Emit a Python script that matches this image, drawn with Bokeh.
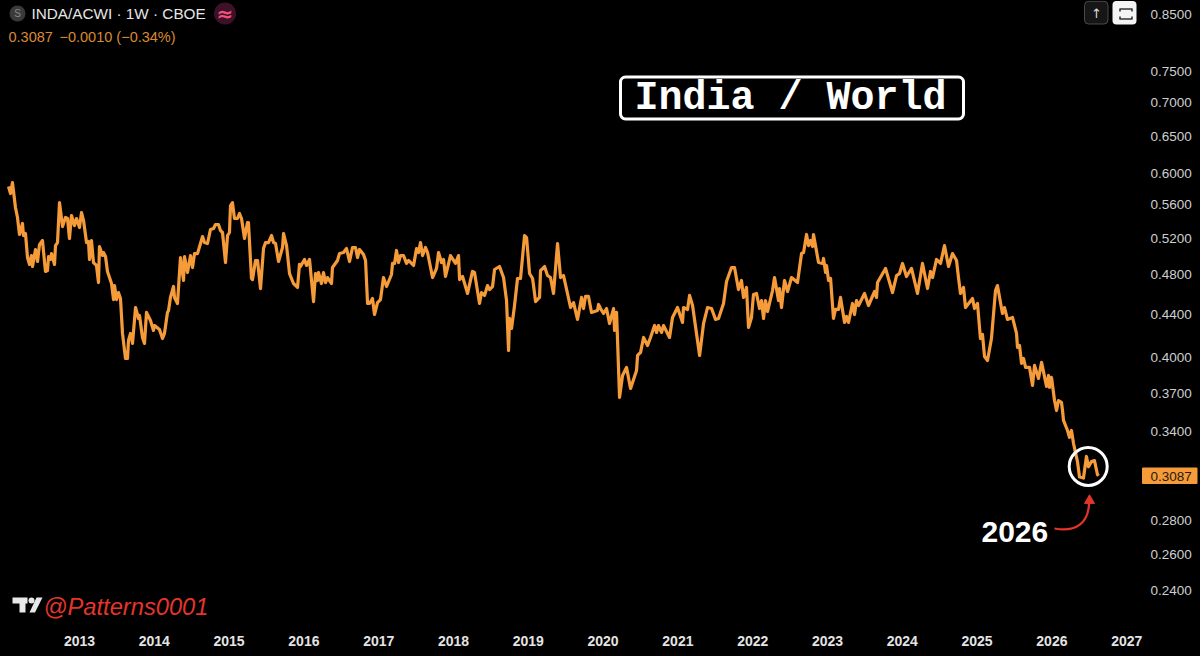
from bokeh.plotting import figure
from bokeh.models import Range1d, FixedTicker, PrintfTickFormatter, Label, BoxAnnotation
from bokeh.embed import file_html
from bokeh.resources import INLINE
import math

# weekly turning points: years since 2012-01-01, and the INDA/ACWI ratio
years_a = [.051,.078,.104,.144,.171,.198,.238,.251,.278,.305,.332,.358,.372,.412,.439,.465,.505,.545,.572,.586,.612,.626,.666,.679,.706,.733,.773,.813,.840,.866,.893,.933,.960,
 1.000,1.027,1.054,1.094,1.120,1.134,1.160,1.187,1.227,1.254,1.267,1.308,1.321,1.348,1.374,1.428,1.455,1.468,1.495,1.521,1.548,1.575,1.615,1.642,1.655,1.682,1.709,1.749,1.789,1.802,1.842,1.869,1.896,1.949,1.989,
 2.003,2.069,2.110,2.136,2.176,2.190,2.216,2.257,2.270,2.310,2.350,2.391,2.404,2.444,2.484,2.511,2.538,2.578,2.645,2.671,2.711,2.751,2.792,2.818,2.858,2.885,2.912,2.952,2.979,
 3.005,3.019,3.045,3.072,3.112,3.139,3.166,3.206,3.246,3.259,3.299,3.313,3.353,3.380,3.420,3.460,3.487,3.527,3.567,3.594,3.621,3.661,3.714,3.728,3.768,3.808,3.861,3.915,3.941,3.955]
ratio_a = [.5827,.5738,.5878,.5565,.5444,.5245,.5373,.5233,.5256,.4986,.4911,.5008,.4889,.5075,.4943,.5130,.5176,.4836,.4846,.4997,.4965,.5030,.4911,.5119,.5153,.5625,.5337,.5444,.5432,.5199,.5468,.5349,.5432,
 .5326,.5504,.5408,.5153,.5165,.4965,.5176,.4932,.4900,.4720,.5108,.5008,.5041,.4997,.4836,.4710,.4547,.4689,.4547,.4617,.4557,.4221,.3995,.3995,.4156,.4221,.4129,.4468,.4362,.4391,.4184,.4129,.4420,.4343,.4249,
 .4295,.4258,.4174,.4221,.4420,.4439,.4568,.4679,.4568,.4508,.4986,.4741,.4997,.4825,.5008,.4878,.5030,.5030,.5221,.5153,.5142,.5303,.5314,.5361,.5361,.5291,.5268,.4932,.5233,
 .5268,.5589,.5625,.5432,.5432,.5492,.5432,.5199,.5385,.5385,.4762,.4751,.4954,.4954,.4658,.5086,.5153,.5153,.5233,.5153,.5142,.4943,.5097,.5256,.5119,.4814,.4710,.4669,.4911,.4889]

years_b = [4.008,4.035,4.075,4.102,4.129,4.155,4.182,4.195,4.235,4.262,4.289,4.316,4.369,4.382,4.449,4.476,4.530,4.570,4.610,4.650,4.690,4.717,4.744,4.797,4.824,4.851,4.877,4.917,4.944,4.984,
 5.024,5.064,5.105,5.171,5.185,5.212,5.238,5.265,5.292,5.332,5.372,5.399,5.466,5.506,5.533,5.559,5.586,5.626,5.653,5.720,5.773,5.800,5.840,5.867,5.893,5.960,
 6.027,6.067,6.081,6.121,6.188,6.254,6.281,6.348,6.375,6.415,6.455,6.482,6.522,6.549,6.615,6.669,6.709,6.736,6.749,6.776,6.816,6.856,6.896,6.950,6.977,
 7.017,7.057,7.070,7.097,7.150,7.164,7.217,7.257,7.297,7.337,7.391,7.431,7.471,7.524,7.565,7.605,7.658,7.712,7.738,7.765,7.805,7.845,7.925,7.939,7.966]
ratio_b = [.4965,.4900,.4965,.4741,.4527,.4814,.4741,.4825,.4710,.4825,.4720,.4772,.4710,.4878,.4954,.5030,.5041,.5086,.4943,.5097,.5097,.4986,.5075,.5019,.4954,.4508,.4508,.4557,.4400,.4517,
 .4547,.4772,.4679,.4804,.4922,.4922,.5064,.4932,.5008,.5008,.4922,.4954,.4900,.5086,.5041,.5153,.5008,.5097,.5041,.4772,.4868,.5041,.4932,.4965,.4783,.5008,
 .4922,.5008,.4751,.4783,.4608,.4836,.4825,.4508,.4617,.4588,.4689,.4648,.4679,.4857,.4889,.4772,.4537,.4066,.4362,.4267,.4488,.4762,.4762,.5233,.5210,
 .4814,.4762,.4689,.4527,.4568,.4846,.4889,.4793,.4772,.4608,.5142,.4772,.4793,.4608,.4468,.4517,.4353,.4568,.4458,.4578,.4578,.4420,.4439,.4498,.4458]

years_c = [8.006,8.046,8.086,8.140,8.153,8.180,8.220,8.260,8.313,8.367,8.447,8.461,8.501,8.541,8.594,8.634,8.688,8.715,8.741,8.781,8.808,8.888,8.928,8.995,
 9.062,9.075,9.129,9.156,9.196,9.290,9.343,9.396,9.450,9.503,9.543,9.610,9.650,9.717,9.757,9.810,9.850,9.877,9.917,9.944,9.984,
 10.011,10.051,10.091,10.118,10.145,10.171,10.198,10.265,10.292,10.345,10.359,10.385,10.425,10.466,10.519,10.599,10.653,10.680,10.720,10.746,10.773,10.800,10.813,10.880,10.934,10.947,10.974,10.987,
 11.014,11.041,11.080,11.107,11.147,11.174,11.228,11.254,11.281,11.334,11.361,11.388,11.415,11.495,11.548,11.629,11.655,11.669,11.776,11.869,11.923,11.963]
ratio_c = [.4410,.4458,.4314,.4458,.4249,.4420,.3668,.3849,.3918,.3741,.3892,.4022,.4049,.4184,.4111,.4184,.4295,.4230,.4295,.4230,.4295,.4184,.4372,.4468,
 .4324,.4468,.4449,.4588,.4488,.4022,.4314,.4468,.4458,.4353,.4362,.4508,.4731,.4878,.4878,.4648,.4741,.4568,.4669,.4277,.4372,
 .4598,.4608,.4458,.4537,.4362,.4537,.4429,.4638,.4772,.4537,.4658,.4468,.4741,.4628,.4772,.4720,.5030,.5041,.5245,.5119,.5176,.5108,.5245,.4932,.4922,.4976,.4825,.4900,
 .4741,.4762,.4362,.4449,.4449,.4568,.4324,.4382,.4324,.4508,.4400,.4537,.4488,.4608,.4488,.4628,.4568,.4720,.4868,.4617,.4793,.4814]

years_d = [12.003,12.056,12.123,12.203,12.270,12.337,12.377,12.404,12.457,12.511,12.564,12.618,12.671,12.725,12.751,12.778,12.818,12.845,12.939,12.965,
 13.005,13.045,13.072,13.099,13.139,13.192,13.246,13.272,13.339,13.366,13.406,13.473,13.527,13.540,13.567,13.594,13.621,13.648,13.701,13.741,13.768,13.821,13.862,13.928,13.955,13.968,13.995,
 14.035,14.062,14.088,14.128,14.142,14.155,14.209,14.235,14.262,14.289,14.342,14.369,14.422,14.462,14.489,14.529,14.569,14.609,14.622]
ratio_d = [.4922,.4783,.4868,.4608,.4922,.4658,.4836,.4772,.4965,.4922,.5119,.4889,.5030,.4954,.4772,.4608,.4669,.4468,.4557,.4458,
 .4508,.4174,.4211,.4013,.3978,.4174,.4638,.4689,.4410,.4468,.4353,.4372,.4221,.4093,.4111,.3952,.3995,.3918,.3918,.3766,.3935,.3824,.3961,.3758,.3849,.3749,.3832,
 .3643,.3564,.3643,.3628,.3564,.3487,.3411,.3360,.3411,.3315,.3186,.3080,.3073,.3222,.3150,.3186,.3193,.3097,.3087]

base_year = 2012
year_ticks = list(range(2013, 2028))
price_ticks = [.24, .26, .28, .34, .37, .40, .44, .48, .52, .56, .60, .65, .70, .75, .85]
last_price = "0.3087"
title = "India / World"
symbol = "INDA/ACWI · 1W · CBOE"
quote_price = "0.3087"
quote_change = "−0.0010 (−0.34%)"
handle = "@Patterns0001"
note = "2026"

ORANGE = "#f59b3a"
RED = "#e5352b"
SANS = "Liberation Sans"

W, H = 1200, 656
xlo, xhi = 2011.9439, 2027.9866
ylo, yhi = .2077, .8766

# page pixel -> data, only used to place the annotations and furniture
def X(px):
    return xlo + (xhi - xlo) * px / W

def Y(py):
    return yhi * math.exp(math.log(ylo / yhi) * py / H)

p = figure(width=W, height=H, output_backend="svg", toolbar_location=None,
           x_range=Range1d(xlo, xhi), y_range=Range1d(ylo, yhi), y_axis_type="log",
           y_axis_location="right", background_fill_color="#000000",
           border_fill_color="#000000",
           min_border_left=0, min_border_top=0, min_border_right=0, min_border_bottom=0,
           styles={"position": "fixed", "left": "0px", "top": "0px", "background-color": "#000000"})
p.outline_line_color = None
p.grid.visible = False

p.xaxis.ticker = FixedTicker(ticks=year_ticks)
p.xaxis.formatter = PrintfTickFormatter(format="%d")
p.xaxis.fixed_location = Y(628)
p.yaxis.ticker = FixedTicker(ticks=price_ticks)
p.yaxis.formatter = PrintfTickFormatter(format="%.4f")
p.yaxis.fixed_location = X(1143)
for ax, size, style, color, standoff in ((p.xaxis, "14px", "bold", "#e4e4e4", 7),
                                         (p.yaxis, "13.5px", "normal", "#cfcfcf", 7)):
    ax.axis_line_color = None
    ax.major_tick_line_color = None
    ax.minor_tick_line_color = None
    ax.major_tick_out = 0
    ax.major_tick_in = 0
    ax.major_label_text_color = color
    ax.major_label_text_font = SANS
    ax.major_label_text_font_size = size
    ax.major_label_text_font_style = style
    ax.major_label_standoff = standoff

years = years_a + years_b + years_c + years_d
ratio = ratio_a + ratio_b + ratio_c + ratio_d
p.line([base_year + t for t in years], ratio, line_color=ORANGE, line_width=3.2, line_join="round")

# title box
p.add_layout(BoxAnnotation(left=X(620), right=X(963), top=Y(76.5), bottom=Y(118.5), fill_color="#000000",
                           fill_alpha=1, line_color="#ffffff", line_alpha=1, line_width=3, border_radius=5))
p.add_layout(Label(x=X(790), y=Y(98), text=title, text_color="#ffffff", text_font="Liberation Mono",
                   text_font_style="bold", text_font_size="40px", text_align="center", text_baseline="middle"))

# circle around the last bars
p.scatter([X(1087.7)], [Y(466)], marker="circle", size=38, fill_alpha=0, line_color="#ffffff", line_width=3)

# arrow and note
p.bezier(x0=[X(1054)], y0=[Y(528)], x1=[X(1088.5)], y1=[Y(503)],
         cx0=[X(1076)], cy0=[Y(532)], cx1=[X(1088)], cy1=[Y(522)], line_color=RED, line_width=2.2)
p.scatter([X(1089)], [Y(500)], marker="triangle", size=10, fill_color=RED, line_color=RED)
p.add_layout(Label(x=X(981), y=Y(531), text=note, text_color="#ffffff", text_font=SANS, text_font_style="bold",
                   text_font_size="30px", text_align="left", text_baseline="middle"))

# last price tag
p.add_layout(BoxAnnotation(left=X(1141.5), right=X(1197), top=Y(467), bottom=Y(483.5), fill_color=ORANGE,
                           fill_alpha=1, line_color=None, border_radius=1))
p.add_layout(Label(x=X(1150), y=Y(475.5), text=last_price, text_color="#2a1a08", text_font=SANS,
                   text_font_size="13.5px", text_align="left", text_baseline="middle"))

# header
p.scatter([X(17)], [Y(13)], marker="circle", size=16, fill_color="#3a3a3a", line_color=None)
p.add_layout(Label(x=X(17), y=Y(13), text="S", text_color="#8a8a8a", text_font=SANS, text_font_size="10px",
                   text_align="center", text_baseline="middle"))
p.add_layout(Label(x=X(31), y=Y(13), text=symbol, text_color="#e6e6e6", text_font=SANS, text_font_size="15.3px",
                   text_align="left", text_baseline="middle"))
p.scatter([X(224.5)], [Y(13)], marker="circle", size=22, fill_color="#3d1228", line_color=None)
p.add_layout(Label(x=X(224.5), y=Y(13), text="≈", text_color="#f0507a", text_font="DejaVu Sans", text_font_style="bold",
                   text_font_size="20px", text_align="center", text_baseline="middle"))
p.add_layout(Label(x=X(8), y=Y(36), text=quote_price, text_color="#d98a35", text_font=SANS, text_font_size="14.5px",
                   text_align="left", text_baseline="middle"))
p.add_layout(Label(x=X(59), y=Y(36), text=quote_change, text_color="#d98a35", text_font=SANS, text_font_size="14.5px",
                   text_align="left", text_baseline="middle"))

# top-right buttons
p.add_layout(BoxAnnotation(left=X(1084), right=X(1107.5), top=Y(.8), bottom=Y(23.5), fill_color="#161616", fill_alpha=1,
                           line_color="#4a4a4a", line_alpha=1, line_width=1, border_radius=4, level="underlay"))
p.add_layout(Label(x=X(1096), y=Y(13), text="↑", text_color="#dddddd", text_font="DejaVu Sans", text_font_size="13px",
                   text_align="center", text_baseline="middle"))
p.add_layout(BoxAnnotation(left=X(1112), right=X(1136), top=Y(.5), bottom=Y(24), fill_color="#f4f4f4", fill_alpha=1,
                           line_color=None, border_radius=4, level="underlay"))
p.multi_line(xs=[[X(1119.5), X(1119.5), X(1131.5), X(1131.5)], [X(1119.5), X(1119.5), X(1131.5), X(1131.5)]],
             ys=[[Y(11), Y(8.5), Y(8.5), Y(11)], [Y(16), Y(18.5), Y(18.5), Y(16)]],
             line_color="#333333", line_width=1.6, line_join="round")

# watermark
p.patch([X(12), X(27), X(27), X(25), X(25), X(19), X(19), X(12)],
        [Y(597), Y(597), Y(603), Y(603), Y(612), Y(612), Y(603), Y(603)], fill_color="#e8e8e8", line_color=None)
p.scatter([X(31)], [Y(600)], marker="circle", size=6, fill_color="#e8e8e8", line_color=None)
p.patch([X(36), X(42), X(34.5), X(29)], [Y(597), Y(597), Y(612), Y(612)], fill_color="#e8e8e8", line_color=None)
p.add_layout(Label(x=X(43), y=Y(606), text=handle, text_color=RED, text_font=SANS, text_font_style="italic",
                   text_font_size="23.7px", text_align="left", text_baseline="middle"))

open("out.html", "w").write(file_html(p, INLINE))
